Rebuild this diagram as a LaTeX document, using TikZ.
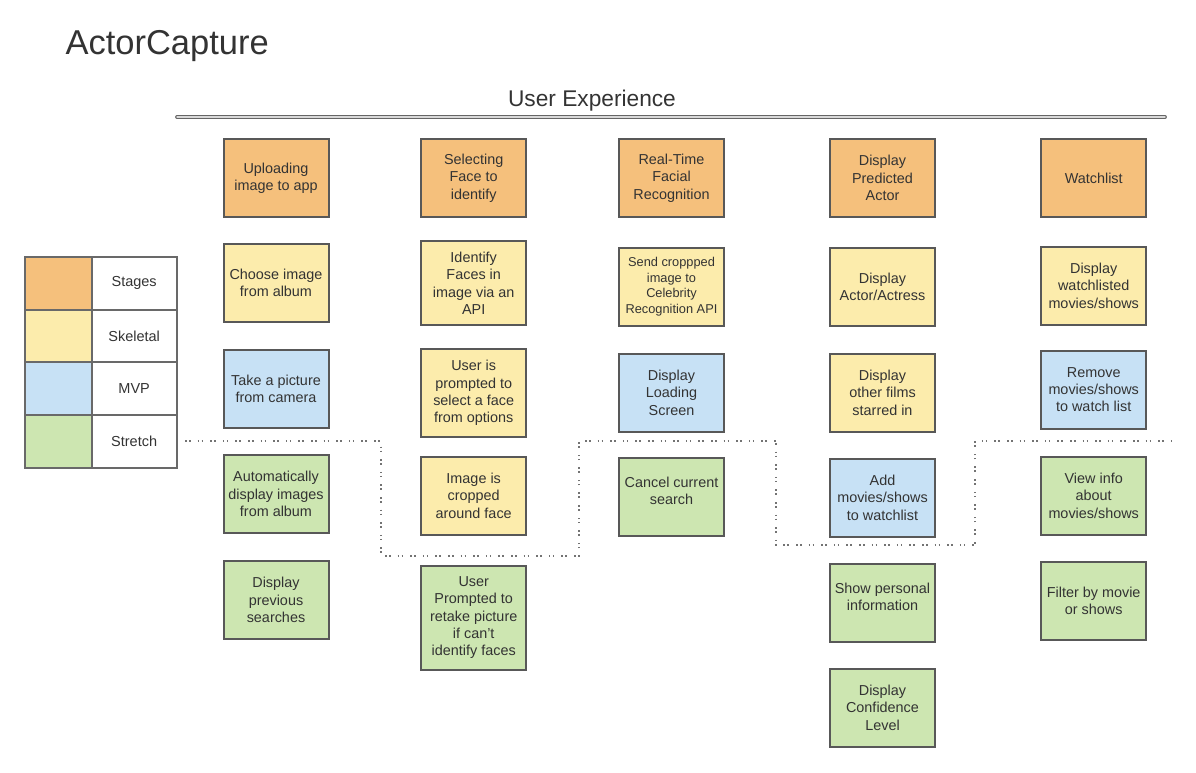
\documentclass[tikz,border=0pt]{standalone}
\usepackage{fontspec}
\setmainfont{Liberation Sans}
\usepackage{xcolor}
\usepackage{tikz}
\usetikzlibrary{positioning, arrows.meta}

\definecolor{stageorange}{RGB}{245,192,124}
\definecolor{skelyellow}{RGB}{252,236,172}
\definecolor{mvpblue}{RGB}{199,225,245}
\definecolor{stretchgreen}{RGB}{205,230,177}
\definecolor{cardline}{RGB}{88,88,88}
\definecolor{textgray}{RGB}{51,51,51}

\tikzstyle{card} = [rectangle, draw=cardline, line width=2pt, minimum width=105pt, minimum height=78pt, inner xsep=2pt, inner ysep=11pt, align=center, text=textgray, font=\fontsize{14.4}{17.3}\selectfont]
\tikzstyle{stage} = [card, fill=stageorange]
\tikzstyle{skeletal} = [card, fill=skelyellow]
\tikzstyle{mvp} = [card, fill=mvpblue]
\tikzstyle{stretch} = [card, fill=stretchgreen]
\tikzstyle{keycell} = [rectangle, draw=cardline!90, line width=2pt, outer sep=0pt, minimum height=52.7pt, text=textgray, font=\fontsize{14.5}{17.4}\selectfont]
\tikzstyle{uxline} = [draw=gray!80!black, double=gray!30, double distance=1.4pt, line width=1.2pt, line cap=round]
\tikzstyle{split} = [draw=gray!90!black, line width=1.6pt, dash pattern=on 1.6pt off 2.4pt on 1.6pt off 7pt]

\begin{document}
\begin{tikzpicture}[x=1pt, y=-1pt]
\useasboundingbox (0,0) rectangle (1196,772);

%==============================================
%Title and user experience line
%==============================================
\node (title) [anchor=west, text=textgray, font=\fontsize{34.5}{40}\selectfont] at (62,46) {ActorCapture};
\node (ux) [text=textgray, font=\fontsize{22.7}{27}\selectfont] at (592,101) {User Experience};
\coordinate (uxstart) at (177,117);
\coordinate (uxend) at (1165,117);
\draw [uxline] (uxstart) -- (uxend);

%Legend==============================================
\node (keyA) [keycell, fill=stageorange, minimum width=66.7pt] at (58.3,283.4) {};
\node (keyStages) [keycell, minimum width=85pt, right=0pt of keyA] {Stages};
\node (keyB) [keycell, fill=skelyellow, minimum width=66.7pt, below=0pt of keyA] {};
\node (keySkeletal) [keycell, minimum width=85pt, right=0pt of keyB] {\raisebox{-4pt}{Skeletal}};
\node (keyC) [keycell, fill=mvpblue, minimum width=66.7pt, below=0pt of keyB] {};
\node (keyMVP) [keycell, minimum width=85pt, right=0pt of keyC] {MVP};
\node (keyD) [keycell, fill=stretchgreen, minimum width=66.7pt, below=0pt of keyC] {};
\node (keyStretch) [keycell, minimum width=85pt, right=0pt of keyD] {Stretch};

%Column 1==============================================
\node (stg1) [stage] at (276,178) {Uploading\\image to app};
\node (c1a) [skeletal, below=25pt of stg1] {Choose image\\from album};
\node (c1b) [mvp, below=26pt of c1a] {Take a picture\\from camera};
\node (c1c) [stretch, below=25pt of c1b] {Automatically\\display images\\from album};
\node (c1d) [stretch, below=26pt of c1c] {Display\\previous\\searches};

%Column 2==============================================
\node (stg2) [stage] at (473.7,178) {Selecting\\Face to\\identify};
\node (c2a) [skeletal, below=22pt of stg2] {Identify\\Faces in\\image via an\\API};
\node (c2b) [skeletal, below=22pt of c2a] {User is\\prompted to\\select a face\\from options};
\node (c2c) [skeletal, below=18pt of c2b] {Image is\\cropped\\around face};
\node (c2d) [stretch, below=29pt of c2c] {User\\Prompted to\\retake picture\\if can't\\identify faces};

%Column 3==============================================
\node (stg3) [stage] at (671.5,178) {Real-Time\\Facial\\Recognition};
\node (c3a) [skeletal, below=28.7pt of stg3, inner ysep=9pt, font=\fontsize{12.8}{15.5}\selectfont] {Send croppped\\image to\\Celebrity\\Recognition API};
\node (c3b) [mvp, below=26pt of c3a] {Display\\Loading\\Screen};
\node (c3c) [stretch, below=24pt of c3b] {Cancel current\\search\\[-5pt]};

%Column 4==============================================
\node (stg4) [stage] at (882.5,178) {Display\\Predicted\\Actor};
\node (c4a) [skeletal, below=28.7pt of stg4] {Display\\Actor/Actress};
\node (c4b) [skeletal, below=26pt of c4a] {Display\\other films\\starred in};
\node (c4c) [mvp, below=25pt of c4b] {Add\\movies/shows\\to watchlist};
\node (c4d) [stretch, below=25pt of c4c] {Show personal\\information\\[-5pt]};
\node (c4e) [stretch, below=25pt of c4d] {Display\\Confidence\\Level};

%Column 5==============================================
\node (stg5) [stage] at (1093.7,178) {Watchlist};
\node (c5a) [skeletal, below=27.7pt of stg5] {Display\\watchlisted\\movies/shows};
\node (c5b) [mvp, below=24pt of c5a] {Remove\\movies/shows\\to watch list};
\node (c5c) [stretch, below=26pt of c5b] {View info\\about\\movies/shows};
\node (c5d) [stretch, below=25pt of c5c] {Filter by movie\\or shows};

%==============================================
%Stretch boundary
\draw [split] (185,441) -- (381,441) -- (381,556) -- (579,556) -- (579,441) -- (776,441) -- (776,545) -- (975,545) -- (975,441) -- (1172,441);
\end{tikzpicture}
\end{document}
